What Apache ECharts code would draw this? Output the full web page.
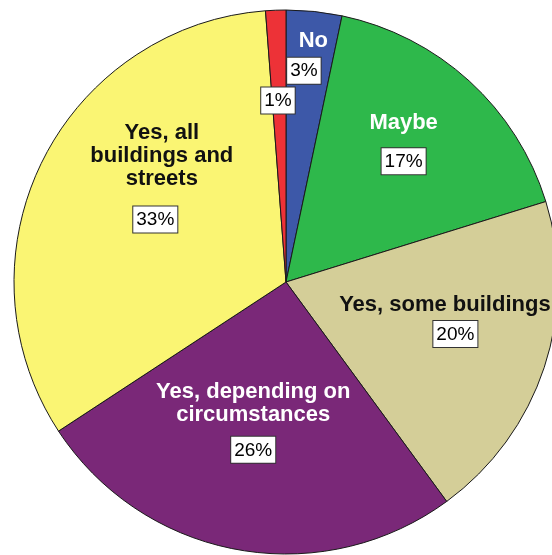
<!DOCTYPE html>
<html>
<head>
<meta charset="utf-8">
<style>
  html, body { margin: 0; padding: 0; background: #fff; }
  #chart { width: 552px; height: 555px; }
</style>
<script src="https://cdn.jsdelivr.net/npm/echarts@6/dist/echarts.min.js"></script>
</head>
<body>
<div id="chart"></div>
<script>
// ---- data ----
const categories = ['No', 'Maybe', 'Yes, some buildings', 'Yes, depending on\ncircumstances', 'Yes, all\nbuildings and\nstreets', 'Other'];
const values = [3.3, 16.9, 19.7, 25.8, 33.0, 1.2];

// ---- styles ----
const sliceColors = ['#3D58A8', '#2EB84B', '#D4CE98', '#7A2878', '#FAF573', '#ED3237'];
const nameColors = ['#ffffff', '#ffffff', '#111111', '#ffffff', '#111111', null];
const labelOffsets = [[3.5, -84.5], [24, -29.5], [37.4, -3], [-8, 8], [-6, -35.5], [-2.8, -42.6]];
const namePadding = [[0, 0, 0, 19], [0, 0, 0, 0], [0, 21, 0, 0], [0, 0, 0, 0], [0, 0, 0, 13], [0, 0, 0, 0]];
const boxLineHeights = [37, 53, 35, 46, 58, 27];

const FONT = '"Liberation Sans", Arial, sans-serif';

const data = categories.map((name, i) => ({
  name: name,
  value: values[i],
  itemStyle: { color: sliceColors[i] },
  label: {
    offset: labelOffsets[i],
    rich: {
      n: {
        fontFamily: FONT, fontSize: 22, fontWeight: 'bold',
        color: nameColors[i] || '#000', lineHeight: 23,
        padding: namePadding[i]
      },
      p: {
        fontFamily: FONT, fontSize: 19, color: '#000',
        backgroundColor: '#fff', borderColor: '#333', borderWidth: 1,
        padding: [4, 3, 3, 3], lineHeight: boxLineHeights[i]
      }
    }
  }
}));

const chart = echarts.init(document.getElementById('chart'), null, { renderer: 'canvas' });
chart.setOption({
  animation: false,
  backgroundColor: '#ffffff',
  series: [{
    type: 'pie',
    center: [286, 282],
    radius: [0, 272],
    startAngle: 90,
    clockwise: true,
    avoidLabelOverlap: false,
    silent: true,
    itemStyle: { borderColor: '#1a1a1a', borderWidth: 1 },
    label: {
      show: true,
      position: 'inside',
      formatter: function (p) {
        const pct = Math.round(p.percent) + '%';
        if (nameColors[p.dataIndex] === null) return '{p|' + pct + '}';
        return '{n|' + p.name + '}\n{p|' + pct + '}';
      }
    },
    labelLine: { show: false },
    emphasis: { disabled: true },
    data: data
  }]
});
</script>
</body>
</html>
